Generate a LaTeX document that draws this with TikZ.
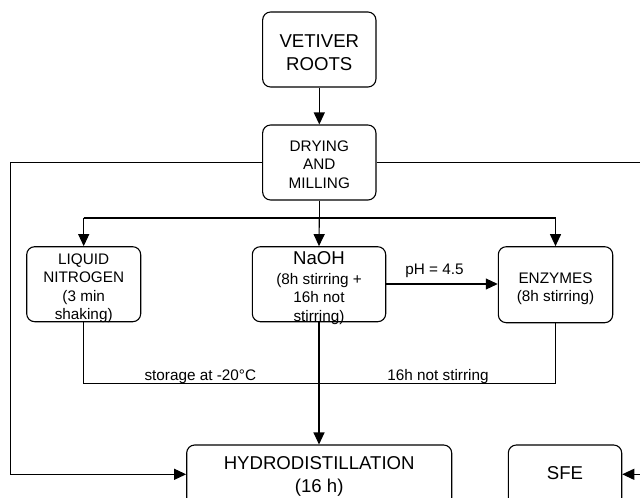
\documentclass[tikz,border=0pt]{standalone}
\usepackage{fontspec}
\setmainfont{Liberation Sans}
\usetikzlibrary{arrows.meta}
\begin{document}
\begin{tikzpicture}[x=1pt,y=-1pt,
  box/.style={draw, rounded corners=8pt, line width=1.1pt, inner sep=0pt},
  txt/.style={align=center, inner sep=0pt, font=\fontsize{15.3}{18.4}\selectfont},
  big/.style={align=center, inner sep=0pt, font=\fontsize{18.6}{22.5}\selectfont},
  conn/.style={line width=1.1pt},
  arr/.style={conn, -{Triangle[length=12pt,width=11pt]}},
  barline/.style={line width=2pt}
]
\useasboundingbox (0,0) rectangle (640,498);
\fill[white] (0,0) rectangle (640,498);

% boxes
\node[box, minimum width=113.3pt, minimum height=75pt] (vet) at (319.3,49.5) {};
\node[box, minimum width=113.3pt, minimum height=75pt] (dry) at (319.3,162.5) {};
\node[box, minimum width=114pt, minimum height=75pt] (liq) at (83.7,284.2) {};
\node[box, minimum width=133.4pt, minimum height=75pt] (naoh) at (319,284.2) {};
\node[box, minimum width=114.4pt, minimum height=76pt] (enz) at (555.5,284.7) {};
\node[box, minimum width=265pt, minimum height=90pt] (hyd) at (319.2,490) {};
\node[box, minimum width=113.4pt, minimum height=90pt] (sfe) at (565,490) {};

% texts
\node[big] (vett) at (319.3,52.5) {VETIVER\\ROOTS};
\node[txt] (dryt) at (319.3,164.7) {DRYING\\AND\\MILLING};
\node[txt] (liqt) at (83.7,288.2) {LIQUID\\NITROGEN\\(3 min\\shaking)};
\node[txt] (naoht) at (319,287.8) {{\fontsize{18.6}{22.5}\selectfont NaOH}\\[1.6pt](8h stirring +\\16h not\\stirring)};
\node[txt] (enzt) at (555.5,288.9) {ENZYMES\\(8h stirring)};
\node[big] (hydt) at (319.2,476.6) {HYDRODISTILLATION\\(16 h)};
\node[big] (sfet) at (565,473.3) {SFE};
\node[txt] (pht) at (434.5,271) {pH = 4.5};
\node[txt, anchor=base] (stor) at (200.3,380) {storage at -20°C};
\node[txt, anchor=base] (notst) at (438,380) {16h not stirring};

% coordinates
\coordinate (barL) at (83.7,217.7);
\coordinate (barR) at (555.5,217.7);
\coordinate (botL) at (83.7,383.3);
\coordinate (botR) at (555.5,383.3);
\coordinate (lTop) at (10.7,162.5);
\coordinate (lBot) at (10.7,474.3);
\coordinate (rTop) at (643,162.5);
\coordinate (rBot) at (643,474.3);

% connectors
\draw[arr] (vet) -- (dry);
\draw[conn] (dry.south) -- (dry.south |- barL);
\draw[barline] (barL) -- (barR);
\draw[arr] (barL) -- (liq.north);
\draw[arr] (dry.south |- barL) -- (naoh.north);
\draw[arr] (barR) -- (enz.north);
\draw[arr] (naoh.east |- 0,284) -- (enz.west |- 0,284);
\draw[conn] (liq.south) -- (botL) -- (botR) -- (enz.south);
\draw[arr] (naoh.south) -- (naoh.south |- hyd.north);
\draw[arr] (dry.west) -- (lTop) -- (lBot) -- (lBot -| hyd.west);
\draw[arr] (dry.east) -- (rTop) -- (rBot) -- (rBot -| sfe.east);
\end{tikzpicture}
\end{document}
